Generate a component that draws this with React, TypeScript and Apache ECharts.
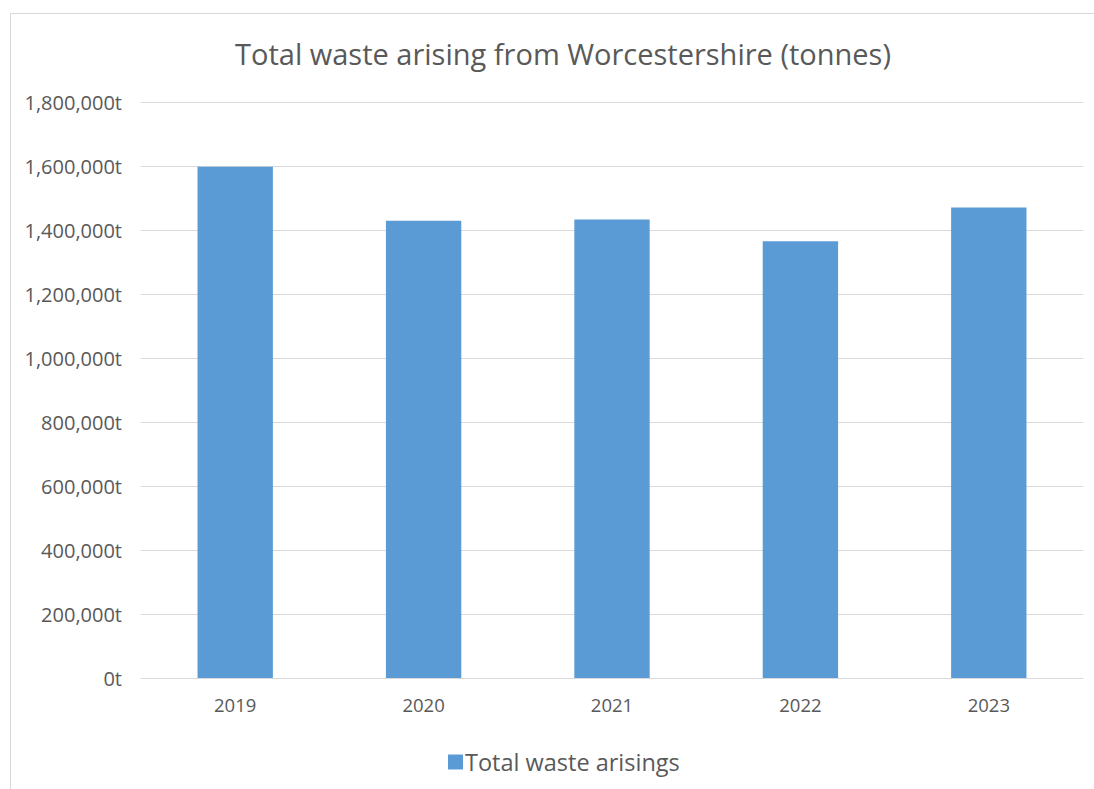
import React, { useEffect, useRef } from "react";
import * as echarts from "echarts";

const categories = ["2019", "2020", "2021", "2022", "2023"];
const wasteValues = [1598000, 1429000, 1433000, 1365000, 1470000];
const seriesName = "Total waste arisings";
const titleText = "Total waste arising from Worcestershire (tonnes)";

const FONT = "'Open Sans', 'Noto Sans', sans-serif";
const TEXT = "#595959";

export default function App() {
  const ref = useRef<HTMLDivElement>(null);
  useEffect(() => {
    if (!ref.current) return;
    const chart = echarts.init(ref.current, null, { renderer: "svg" });
    chart.setOption({
      animation: false,
      backgroundColor: "#ffffff",
      textStyle: { fontFamily: FONT },
      title: {
        text: titleText,
        left: 558,
        textAlign: "center",
        top: 34,
        textStyle: { fontFamily: FONT, fontSize: 29, fontWeight: "normal", color: TEXT },
      },
      legend: {
        data: [seriesName],
        left: 443,
        top: 745,
        icon: "rect",
        itemWidth: 15,
        itemHeight: 15,
        itemGap: 6,
        textStyle: { fontFamily: FONT, fontSize: 23.5, color: TEXT, padding: [0, 0, 0, -3] },
      },
      graphic: [
        {
          type: "rect",
          shape: { x: 10.5, y: 13.5, width: 1200, height: 900 },
          style: { fill: "none", stroke: "#D9D9D9", lineWidth: 1 },
          silent: true,
        },
      ],
      grid: { left: 141, right: 11, top: 102, bottom: 111, containLabel: false },
      xAxis: {
        type: "category",
        data: categories,
        axisLine: { show: true, lineStyle: { color: "#D9D9D9", width: 1 } },
        axisTick: { show: false },
        axisLabel: { color: TEXT, fontFamily: FONT, fontSize: 18.5, margin: 17 },
      },
      yAxis: {
        type: "value",
        min: 0,
        max: 1800000,
        interval: 200000,
        axisLine: { show: false },
        axisTick: { show: false },
        splitLine: { lineStyle: { color: "#D9D9D9", width: 1 } },
        axisLabel: {
          color: TEXT,
          fontFamily: FONT,
          fontSize: 20,
          margin: 19,
          formatter: (v: number) => v.toLocaleString("en-GB") + "t",
        },
      },
      series: [
        {
          name: seriesName,
          type: "bar",
          data: wasteValues,
          barWidth: "40%",
          itemStyle: { color: "#5B9BD5" },
        },
      ],
    });
    return () => chart.dispose();
  }, []);
  return (
    <div
      ref={ref}
      style={{ position: "absolute", left: 0, top: 0, width: 1094, height: 789 }}
    />
  );
}
